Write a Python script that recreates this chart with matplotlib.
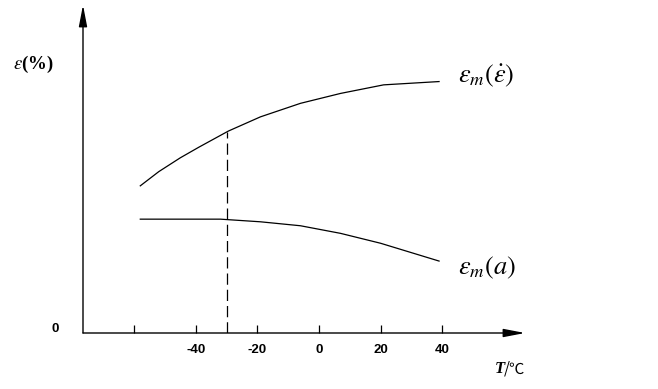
import numpy as np
import matplotlib
matplotlib.use("Agg")
import matplotlib.pyplot as plt

plt.rcParams['mathtext.fontset'] = 'stix'

# (y in arbitrary units, axis has no scale)
temp_upper = [-58, -52, -45, -39, -29.4, -19, -6, 7, 21, 39]
eps_rate = [4.46, 4.89, 5.31, 5.63, 6.12, 6.55, 6.96, 7.26, 7.52, 7.62]
temp_lower = [-58, -32, -19, -6, 7, 20, 39]
eps_a = [3.45, 3.45, 3.37, 3.25, 3.02, 2.72, 2.18]
x_ticks = [-60, -40, -20, 0, 20, 40]
x_labels = ['', '-40', '-20', '0', '20', '40']
t_mark = -30

fig = plt.figure(figsize=(6.58, 3.89), dpi=100)
ax = fig.add_axes([83 / 658, 56 / 389, 442 / 658, 328 / 389])
ax.set_xlim(-76.6, 66.9)
ax.set_ylim(0, 9.94)

ax.plot(temp_upper, eps_rate, color='black', lw=0.9)
ax.plot(temp_lower, eps_a, color='black', lw=0.9)
top = np.interp(t_mark, temp_upper, eps_rate)
ax.plot([t_mark, t_mark], [0, top], color='black', lw=0.9, linestyle=(0, (9, 4)))

for s in ax.spines.values():
    s.set_visible(False)

# axes with arrow heads
arrow = dict(arrowstyle='-|>,head_length=1.3,head_width=0.25', color='black', lw=1.0,
             shrinkA=0, shrinkB=0)
ax.annotate('', xy=(1, 0), xytext=(0, 0), xycoords='axes fraction', arrowprops=arrow)
ax.annotate('', xy=(0, 1), xytext=(0, 0), xycoords='axes fraction', arrowprops=arrow)

ax.set_xticks(x_ticks)
ax.set_xticklabels(x_labels, fontweight='bold', fontsize=9.5, family='Liberation Sans')
ax.tick_params(axis='x', direction='in', length=6, width=0.9, pad=8)
ax.set_yticks([])

ax.text(55 / 658, 1 - 329 / 389, '0', transform=fig.transFigure, fontsize=9.5,
        fontweight='bold', family='Liberation Sans', ha='center', va='center')
fig.text(13 / 658, 1 - 64 / 389, r'$\varepsilon$(%)', fontsize=13.5, fontweight='bold',
         family='Liberation Serif', va='center', ha='left')
fig.text(495 / 658, 1 - 369 / 389, 'T', fontsize=12, fontweight='bold', style='italic',
         family='Liberation Serif', va='center', ha='left')
fig.text(504 / 658, 1 - 369 / 389, '/℃', fontsize=11,
         family=['Noto Sans CJK SC', 'DejaVu Sans'], va='center', ha='left')
fig.text(458 / 658, 1 - 76 / 389, r'$\varepsilon_m\left(\dot{\varepsilon}\right)$',
         fontsize=19, va='center', ha='left')
fig.text(458 / 658, 1 - 268 / 389, r'$\varepsilon_m\left(a\right)$',
         fontsize=19, va='center', ha='left')

fig.savefig('out.png', dpi=100)
